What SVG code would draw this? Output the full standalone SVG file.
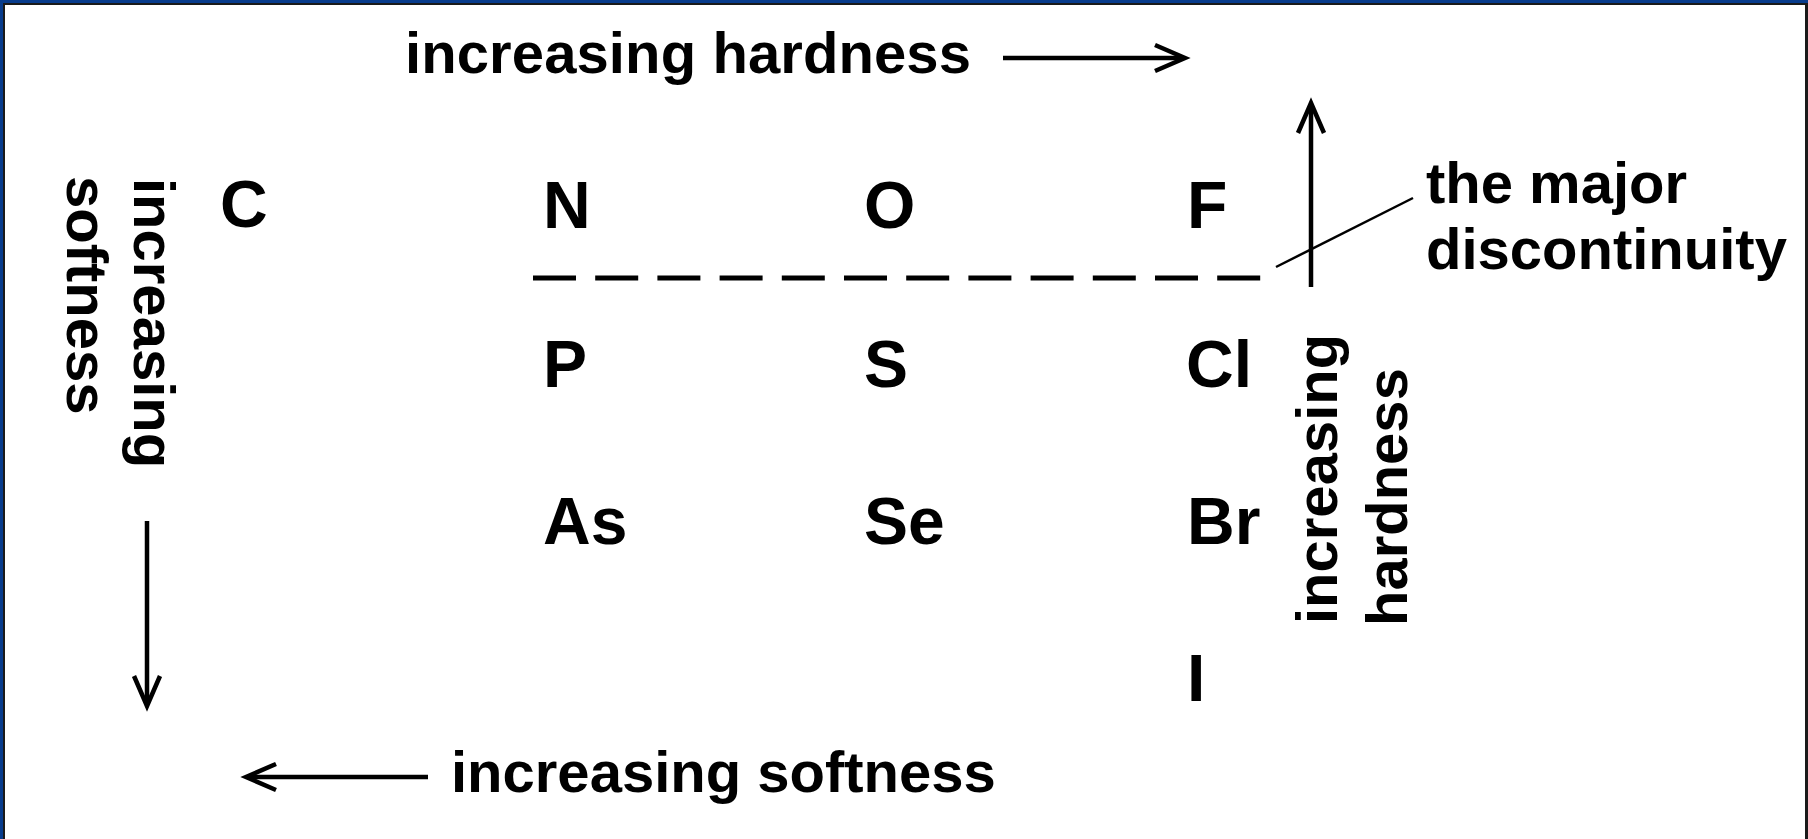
<svg xmlns="http://www.w3.org/2000/svg" width="1808" height="839" viewBox="0 0 1808 839">
  <style>
    .el { font-family: "Liberation Sans", Arial, sans-serif; font-weight: bold; font-size: 66px; fill: #000; }
    .lbl { font-family: "Liberation Sans", Arial, sans-serif; font-weight: bold; font-size: 58px; fill: #000; }
    .arr { stroke: #000; stroke-width: 4.5; fill: none; stroke-linejoin: miter; }
    .dash { stroke: #000; stroke-width: 5; stroke-dasharray: 43 19.2; fill: none; }
    .lead { stroke: #000; stroke-width: 2.5; fill: none; }
  </style>
  <rect x="0" y="0" width="1808" height="839" fill="#083c8c"/>
  <rect x="3" y="3" width="1805" height="836" fill="#1a1a1a"/>
  <rect x="5" y="5" width="1800" height="834" fill="#ffffff"/>

  <g id="el-C"><text class="el" x="220" y="227">C</text></g>
  <g id="el-N"><text class="el" x="543" y="228">N</text></g>
  <g id="el-O"><text class="el" x="864" y="228">O</text></g>
  <g id="el-F"><text class="el" x="1187" y="228">F</text></g>
  <g id="el-P"><text class="el" x="543" y="387">P</text></g>
  <g id="el-S"><text class="el" x="864" y="387">S</text></g>
  <g id="el-Cl"><text class="el" x="1186" y="387">Cl</text></g>
  <g id="el-As"><text class="el" x="543" y="544">As</text></g>
  <g id="el-Se"><text class="el" x="864" y="544">Se</text></g>
  <g id="el-Br"><text class="el" x="1187" y="544">Br</text></g>
  <g id="el-I"><text class="el" x="1187" y="701">I</text></g>

  <g id="label-top"><text class="lbl" x="405" y="73" textLength="566">increasing hardness</text></g>
  <g id="label-bottom"><text class="lbl" x="451" y="792">increasing softness</text></g>
  <g id="label-discontinuity">
    <text class="lbl" x="1426" y="203">the major</text>
    <text class="lbl" x="1426" y="269">discontinuity</text>
  </g>
  <g id="label-right">
    <text class="lbl" transform="translate(1337,624) rotate(-90)">increasing</text>
    <text class="lbl" transform="translate(1407,626) rotate(-90)">hardness</text>
  </g>
  <g id="label-left">
    <text class="lbl" transform="translate(134,178) rotate(90)">increasing</text>
    <text class="lbl" transform="translate(67,176) rotate(90)">softness</text>
  </g>

  <g id="connectors">
    <line class="dash" x1="533" y1="278" x2="1262" y2="278"/>
    <line class="lead" x1="1276" y1="267" x2="1413" y2="198"/>
    <line class="arr" x1="1003" y1="58" x2="1183" y2="58"/>
    <polyline class="arr" points="1155,45 1185,58 1155,71"/>
    <line class="arr" x1="1311" y1="105" x2="1311" y2="287"/>
    <polyline class="arr" points="1298,133 1311,103 1324,133"/>
    <line class="arr" x1="147" y1="521" x2="147" y2="704"/>
    <polyline class="arr" points="134,676 147,706 160,676"/>
    <line class="arr" x1="428" y1="777" x2="248" y2="777"/>
    <polyline class="arr" points="276,764 246,777 276,790"/>
  </g>
</svg>
